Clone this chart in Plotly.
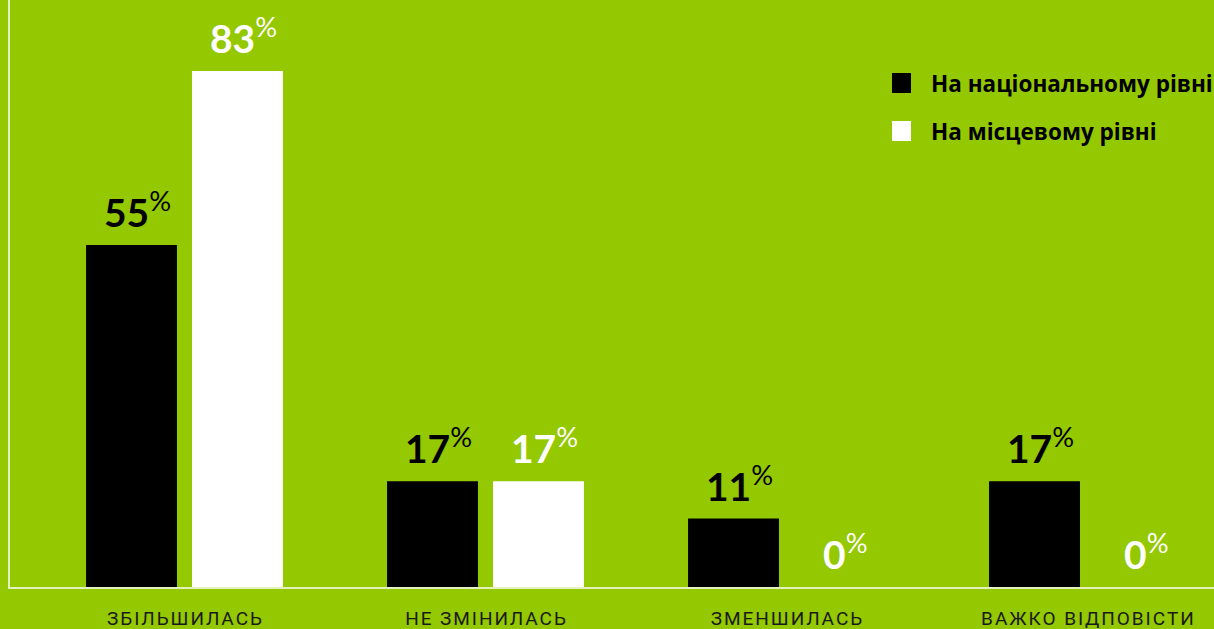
import plotly.graph_objects as go

categories = ["ЗБІЛЬШИЛАСЬ", "НЕ ЗМІНИЛАСЬ", "ЗМЕНШИЛАСЬ", "ВАЖКО ВІДПОВІСТИ"]
national = [55, 17, 11, 17]
local = [83, 17, 0, 0]
series_names = ["На національному рівні", "На місцевому рівні"]

BG = "#94c800"
HAIR = "\u200a"

def spaced(s):
    return HAIR.join(list(s))

xpos = list(range(len(categories)))
W, H = 1214, 629
ML, MR, MT, MB = 10, 0, 0, 42
bar_w = 0.302
half = 0.176

fig = go.Figure()
fig.add_trace(go.Bar(x=xpos, y=national, name=series_names[0], marker_color="#000000",
                     marker_line_width=0,
                     width=bar_w, offset=-half - bar_w / 2, showlegend=False))
fig.add_trace(go.Bar(x=xpos, y=local, name=series_names[1], marker_color="#ffffff",
                     marker_line_width=0,
                     width=bar_w, offset=half - bar_w / 2, showlegend=False))

annotations = []
for vals, sign, col in ((national, -1, "#000000"), (local, 1, "#ffffff")):
    for i, v in enumerate(vals):
        annotations.append(dict(
            x=i + sign * half, y=v, xref="x", yref="y",
            text=f"<b>{v}</b><sup>%</sup>", showarrow=False,
            xanchor="center", yanchor="bottom", xshift=6, yshift=8,
            font=dict(family="Lato", size=39, color=col)))

# manual legend
pw = W - ML - MR
ph = H - MT - MB
def px_x(p):
    return (p - ML) / pw
def px_y(p):
    return 1 - (p - MT) / ph

shapes = []
leg_colors = ["#000000", "#ffffff"]
leg_centers = [83, 131]
for name, col, cy in zip(series_names, leg_colors, leg_centers):
    shapes.append(dict(type="rect", xref="paper", yref="paper",
                       x0=px_x(892), x1=px_x(911), y0=px_y(cy + 10), y1=px_y(cy - 10),
                       fillcolor=col, line=dict(width=0)))
    annotations.append(dict(x=px_x(929), y=px_y(cy), xref="paper", yref="paper",
                            text=f"<b>{name}</b>", showarrow=False, xanchor="left",
                            yanchor="middle",
                            font=dict(family="Open Sans", size=22.5, color="#000000")))

fig.update_layout(
    width=W, height=H,
    margin=dict(l=ML, r=MR, t=MT, b=MB),
    paper_bgcolor=BG, plot_bgcolor=BG,
    showlegend=False,
    annotations=annotations,
    shapes=shapes,
    xaxis=dict(range=[-0.5797, 3.4203], tickvals=xpos,
               ticktext=[spaced(c) for c in categories],
               showgrid=False, zeroline=False, showline=True, automargin=False,
               linecolor="rgba(255,255,255,0.75)", linewidth=1.5,
               ticks="", ticklabelstandoff=13,
               tickfont=dict(family="Roboto", size=19, color="#1a1a1a")),
    yaxis=dict(range=[0, 94.42], showgrid=False, zeroline=False, showline=True,
               automargin=False,
               linecolor="rgba(255,255,255,0.75)", linewidth=1.5,
               showticklabels=False, ticks=""),
)

fig.write_html("out.html", config={"displayModeBar": False},
               post_script="document.body.style.margin='0';document.body.style.padding='0';")
